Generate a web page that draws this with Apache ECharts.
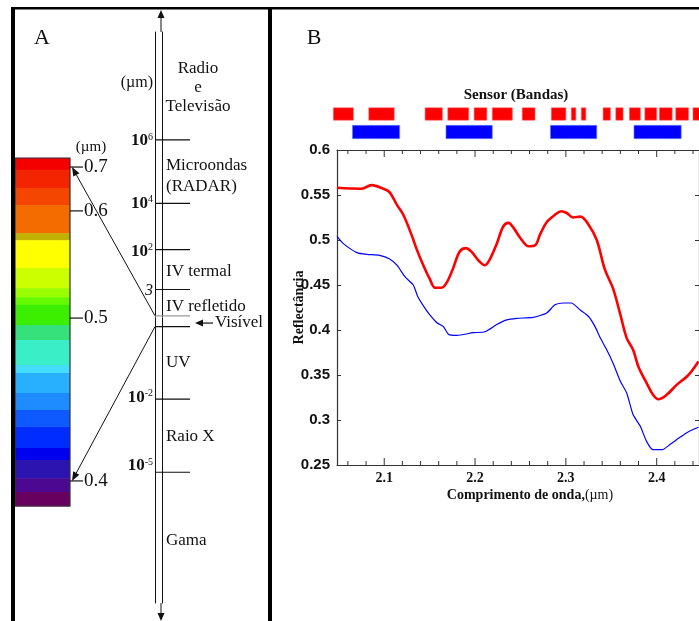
<!DOCTYPE html>
<html><head><meta charset="utf-8">
<script src="https://cdn.jsdelivr.net/npm/echarts@6/dist/echarts.min.js"></script>
<style>html,body{margin:0;padding:0;background:#fff}#c{width:699px;height:621px}</style>
</head><body><div id="c"></div>
<script>
// ---------- Panel B data ----------
const redWavelength = [2.048,2.075,2.086,2.099,2.106,2.114,2.121,2.130,2.136,2.143,2.150,2.156,2.163,2.169,2.176,2.183,2.190,2.196,2.205,2.211,2.216,2.224,2.231,2.237,2.242,2.250,2.259,2.266,2.272,2.279,2.288,2.295,2.301,2.308,2.316,2.325,2.334,2.343,2.352,2.360,2.367,2.374,2.380,2.389,2.396,2.402,2.411,2.422,2.435,2.446];
const redReflectance = [0.558,0.557,0.561,0.557,0.553,0.539,0.528,0.506,0.489,0.472,0.457,0.447,0.447,0.453,0.469,0.487,0.491,0.487,0.476,0.472,0.478,0.496,0.515,0.519,0.514,0.502,0.493,0.494,0.507,0.520,0.528,0.532,0.530,0.525,0.526,0.517,0.500,0.467,0.446,0.417,0.391,0.378,0.359,0.341,0.328,0.323,0.328,0.339,0.350,0.365];
const blueWavelength = [2.048,2.055,2.070,2.081,2.095,2.106,2.114,2.123,2.132,2.137,2.145,2.150,2.158,2.165,2.171,2.180,2.198,2.211,2.224,2.234,2.246,2.264,2.279,2.288,2.297,2.306,2.316,2.325,2.332,2.338,2.345,2.352,2.360,2.367,2.374,2.382,2.389,2.396,2.406,2.415,2.426,2.435,2.446];
const blueReflectance = [0.504,0.496,0.486,0.484,0.483,0.479,0.472,0.459,0.450,0.437,0.424,0.417,0.408,0.404,0.395,0.394,0.397,0.398,0.406,0.411,0.413,0.414,0.419,0.428,0.430,0.430,0.422,0.415,0.404,0.391,0.378,0.363,0.343,0.330,0.306,0.293,0.276,0.267,0.267,0.273,0.281,0.287,0.292];
const sensorRedStart = [2.044,2.083,2.145,2.170,2.199,2.219,2.252,2.284,2.306,2.317,2.341,2.355,2.370,2.387,2.403,2.421,2.440];
const sensorRedEnd   = [2.066,2.111,2.164,2.193,2.213,2.241,2.266,2.300,2.311,2.322,2.349,2.363,2.382,2.400,2.417,2.435,2.470];
const sensorBlueStart = [2.065,2.168,2.283,2.375];
const sensorBlueEnd   = [2.117,2.219,2.334,2.427];
const xTickLabels = [2.1,2.2,2.3,2.4];
const yTickLabels = [0.25,0.3,0.35,0.4,0.45,0.5,0.55,0.6];

// ---------- Panel A data (schematic positions, 0 = top, 100 = bottom) ----------
const colorBandStart = [0,3.4,8.6,13.5,21.6,23.6,31.6,37.4,40.0,42.2,48.0,52.3,59.5,61.8,67.5,72.4,77.3,83.3,86.8,92.0,96.0];
const colorBandEnd   = [3.4,8.6,13.5,21.6,23.6,31.6,37.4,40.0,42.2,48.0,52.3,59.5,61.8,67.5,72.4,77.3,83.3,86.8,92.0,96.0,100];
const colorBandColors = ['#f40000','#f42400','#f44600','#f46c00','#c2b200','#ffff00','#ccff00','#99ff00','#66fa00','#3cee00','#36e07a','#3aeec8','#44ddff','#28b0ff','#1e8cff','#0e5aff','#002cff','#0000ee','#2c14b0','#4c0890','#680060'];
const colorbarTickPos = [2.6,15.2,46.0,92.8];
const colorbarTickLabels = ['0.7','0.6','0.5','0.4'];
const spectrumTickPos = [18.9,30.0,38.1,45.1,49.7,51.6,64.3,77.1];
const spectrumLabelPos = [8.9,19.1,30.0,38.4,45.4,64.0,76.0];
const spectrumLabelText = ['(µm)','10^6','10^4','10^2','3','10^-2','10^-5'];
const regionNames = ['Radio\ne\nTelevisão','Microondas\n(RADAR)','IV termal','IV refletido','Visível','UV','Raio X','Gama'];
const regionPos = [9.8,25.2,41.9,48.0,50.8,57.8,70.9,89.0];

// ---------- layout / style ----------
const SERIF = '"Liberation Serif","Times New Roman",serif';
const regionDx = [43,11,11,11,60,11,11,11];
const regionAlign = ['center','left','left','left','left','left','left','left'];
const spectrumTickColor = ['#111','#111','#111','#111','#999','#111','#111','#111'];
const xMin = 2.048, xMax = 2.4466, yMin = 0.25, yMax = 0.6;
const xTickMarks = [];
for (let i = 103; i <= 222; i++) { const v = +(i/50).toFixed(2); xTickMarks.push([v, xTickLabels.some(t=>Math.abs(t-v)<1e-6) ? 1 : 0]); }

const redData = redWavelength.map((x,i)=>[x, redReflectance[i]]);
const blueData = blueWavelength.map((x,i)=>[x, blueReflectance[i]]);
const sensorRed = sensorRedStart.map((s,i)=>[s, sensorRedEnd[i], 0]);
const sensorBlue = sensorBlueStart.map((s,i)=>[s, sensorBlueEnd[i], 1]);
const colorBands = colorBandStart.map((s,i)=>[s, colorBandEnd[i], i]);

function bandRender(factor, edge){
  return function(params, api){
    const s = api.coord([api.value(0), api.value(2)]);
    const e = api.coord([api.value(1), api.value(2)]);
    const h = api.size([0,1])[1]*factor;
    return {type:'rect', shape:{x:s[0], y:s[1]-h/2, width:e[0]-s[0], height:h},
      style:{fill: api.visual('color'), stroke: edge, lineWidth:0.6}};
  };
}
function supRich(t){
  const k = t.indexOf('^');
  if (k < 0) return t === '(µm)' ? '{u|(µm)}' : '{t|' + t + '}';
  return '{b|' + t.slice(0,k) + '}{s|' + t.slice(k+1) + '}';
}
function nearestLabel(v, pos, labels){
  let best = 0, d = 1e9;
  pos.forEach((p,i)=>{ if (Math.abs(p-v) < d) { d = Math.abs(p-v); best = i; } });
  return labels[best];
}

const chart = echarts.init(document.getElementById('c'));
const axisCol = '#333';
chart.setOption({
  animation:false,
  backgroundColor:'#fff',
  grid:[
    {left:337, top:150, width:362, height:315},
    {left:337, top:105, width:362, height:36},
    {left:15, top:158, width:55, height:348},
    {left:155, top:32, width:35, height:571}
  ],
  xAxis:[
    {gridIndex:0, type:'value', min:xMin, max:xMax, position:'bottom',
     axisLine:{lineStyle:{color:axisCol, width:1.2}}, axisTick:{show:false},
     axisLabel:{customValues:xTickLabels, formatter:v=>v.toFixed(1), color:'#111', fontFamily:SERIF, fontWeight:'bold', fontSize:14, margin:6},
     splitLine:{show:false},
     name:'{b|Comprimento de onda,}{n|(µm)}', nameLocation:'middle', nameGap:23, nameMoveOverlap:false,
     nameTextStyle:{padding:[0,0,0,24], rich:{b:{fontFamily:SERIF, fontWeight:'bold', fontSize:14, color:'#111'}, n:{fontFamily:SERIF, fontSize:14, color:'#111'}}}},
    {gridIndex:0, type:'value', min:xMin, max:xMax, position:'top',
     axisLine:{lineStyle:{color:axisCol, width:1.2}}, axisTick:{show:false}, axisLabel:{show:false}, splitLine:{show:false}},
    {gridIndex:1, type:'value', min:xMin, max:xMax, show:false},
    {gridIndex:2, type:'value', min:0, max:1, show:false},
    {gridIndex:3, type:'value', min:0, max:1, show:false}
  ],
  yAxis:[
    {gridIndex:0, type:'value', min:yMin, max:yMax, interval:0.05, position:'left',
     axisLine:{show:true, lineStyle:{color:axisCol, width:1.2}}, axisTick:{show:true, inside:true, length:4, lineStyle:{color:axisCol}},
     axisLabel:{formatter:v=>String(+v.toFixed(2)), color:'#111', fontFamily:'"Liberation Sans Narrow","Liberation Sans",Arial,sans-serif', fontWeight:'bold', fontSize:15, margin:7},
     splitLine:{show:false},
     name:'Reflectância', nameLocation:'middle', nameGap:31, nameRotate:90, nameMoveOverlap:false,
     nameTextStyle:{fontFamily:SERIF, fontWeight:'bold', fontSize:14, color:'#111'}},
    {gridIndex:0, type:'value', min:yMin, max:yMax, interval:0.05, position:'right',
     axisLine:{show:true, lineStyle:{color:axisCol, width:1.2}}, axisTick:{show:true, inside:true, length:4, lineStyle:{color:axisCol}},
     axisLabel:{show:false}, splitLine:{show:false}},
    {gridIndex:1, type:'category', data:['Sensor 1','Sensor 2'], inverse:true, show:false},
    {gridIndex:2, type:'value', min:0, max:100, inverse:true, position:'right',
     axisLine:{show:false}, axisTick:{show:false},
     axisLabel:{customValues:colorbarTickPos, formatter:v=>nearestLabel(v, colorbarTickPos, colorbarTickLabels), margin:14, fontFamily:SERIF, fontSize:19, color:'#111'},
     splitLine:{show:false}},
    {gridIndex:3, type:'value', min:0, max:100, inverse:true, position:'left',
     axisLine:{show:true, lineStyle:{color:'#111', width:1}}, axisTick:{show:false},
     axisLabel:{customValues:spectrumLabelPos, margin:2, formatter:v=>supRich(nearestLabel(v, spectrumLabelPos, spectrumLabelText)),
       rich:{b:{fontFamily:SERIF, fontWeight:'bold', fontSize:17, color:'#111', lineHeight:18},
             s:{fontFamily:SERIF, fontSize:10, color:'#111', verticalAlign:'top', lineHeight:11},
             t:{fontFamily:SERIF, fontStyle:'italic', fontSize:16, color:'#111'},
             u:{fontFamily:SERIF, fontSize:16, color:'#111'}}},
     splitLine:{show:false}},
    {gridIndex:3, type:'value', min:0, max:100, inverse:true, position:'left', offset:-7,
     axisLine:{show:true, lineStyle:{color:'#111', width:1}}, axisTick:{show:false}, axisLabel:{show:false}, splitLine:{show:false}}
  ],
  series:[
    {type:'line', name:'Amostra 1', xAxisIndex:0, yAxisIndex:0, data:redData, showSymbol:false, smooth:0.35,
     lineStyle:{color:'#ff0000', width:2.6}, itemStyle:{color:'#ff0000'}, z:3},
    {type:'line', name:'Amostra 2', xAxisIndex:0, yAxisIndex:0, data:blueData, showSymbol:false, smooth:0.2,
     lineStyle:{color:'#0000ff', width:1.2}, itemStyle:{color:'#0000ff'}, z:3},
    {type:'custom', name:'Sensor vermelho', xAxisIndex:2, yAxisIndex:2, data:sensorRed, renderItem:bandRender(0.69,'#ff6060'), itemStyle:{color:'#ff0000'}, clip:false},
    {type:'custom', name:'Sensor azul', xAxisIndex:2, yAxisIndex:2, data:sensorBlue, renderItem:bandRender(0.74,'#6688ff'), itemStyle:{color:'#0000ff'}, clip:false},
    {type:'custom', name:'Marcas do eixo x', xAxisIndex:0, yAxisIndex:0, data:xTickMarks, silent:true,
     renderItem:function(params, api){
       const b = api.coord([api.value(0), yMin]), t = api.coord([api.value(0), yMax]);
       const L = api.value(1) ? 7 : 4;
       const st = {stroke:axisCol, lineWidth:1};
       return {type:'group', children:[
         {type:'line', shape:{x1:b[0], y1:b[1], x2:b[0], y2:b[1]-L}, style:st},
         {type:'line', shape:{x1:t[0], y1:t[1], x2:t[0], y2:t[1]+L}, style:st}]};
     }},
    {type:'custom', name:'Cores', xAxisIndex:3, yAxisIndex:3, data:colorBands,
     renderItem:function(params, api){
       const a = api.coord([0, api.value(0)]), b = api.coord([1, api.value(1)]);
       return {type:'rect', shape:{x:a[0], y:a[1], width:b[0]-a[0], height:b[1]-a[1]+0.5}, style:{fill:colorBandColors[api.value(2)]}};
     }},
    {type:'custom', name:'Borda', xAxisIndex:3, yAxisIndex:3, data:[[0,100]], z:5,
     renderItem:function(params, api){
       const a = api.coord([0, 0]), b = api.coord([1, 100]);
       return {type:'rect', shape:{x:a[0], y:a[1], width:b[0]-a[0], height:b[1]-a[1]}, style:{fill:'none', stroke:'#333', lineWidth:1.2}};
     }},
    {type:'custom', name:'Marcas da escala de cor', xAxisIndex:3, yAxisIndex:3, data:colorbarTickPos.map(p=>[1,p]), z:5,
     renderItem:function(params, api){
       const a = api.coord([1, api.value(1)]);
       return {type:'line', shape:{x1:a[0], y1:a[1], x2:a[0]+13, y2:a[1]}, style:{stroke:'#111', lineWidth:1.2}};
     }},
    {type:'custom', name:'Espectro', xAxisIndex:4, yAxisIndex:4, data:spectrumTickPos.map((p,i)=>[0,p,i]),
     renderItem:function(params, api){
       const a = api.coord([0, api.value(1)]), b = api.coord([1, api.value(1)]);
       return {type:'line', shape:{x1:a[0], y1:a[1], x2:b[0], y2:b[1]}, style:{stroke:spectrumTickColor[api.value(2)], lineWidth:1.2}};
     }},
    {type:'custom', name:'Regiões', xAxisIndex:4, yAxisIndex:4, data:regionPos.map((p,i)=>[0,p,i]),
     renderItem:function(params, api){
       const i = api.value(2), a = api.coord([0, api.value(1)]);
       const txt = {type:'text', x:a[0]+regionDx[i], y:a[1],
         style:{text:regionNames[i], fontFamily:SERIF, fontSize:17, fill:'#111', align:regionAlign[i], verticalAlign:'middle',
                lineHeight: i===0 ? 19 : 20.5}};
       if (regionNames[i] !== 'Visível') return txt;
       const x0 = a[0]+40, x1 = a[0]+58, y = a[1]+1;
       return {type:'group', children:[txt,
         {type:'line', shape:{x1:x0+6, y1:y, x2:x1, y2:y}, style:{stroke:'#111', lineWidth:1.2}},
         {type:'polygon', shape:{points:[[x0,y],[x0+8,y-3.5],[x0+8,y+3.5]]}, style:{fill:'#111'}}]};
     }}
  ]
});

// ---------- decorative frame, arrows, panel letters ----------
function arrow(x1,y1,x2,y2,head,w){
  const ang = Math.atan2(y2-y1, x2-x1);
  const bx = x2-head*Math.cos(ang), by = y2-head*Math.sin(ang);
  const px = -Math.sin(ang)*w, py = Math.cos(ang)*w;
  return [{type:'line', shape:{x1:x1, y1:y1, x2:bx, y2:by}, style:{stroke:'#111', lineWidth:1}, z:50},
          {type:'polygon', shape:{points:[[x2,y2],[bx+px,by+py],[bx-px,by-py]]}, style:{fill:'#111'}, z:50}];
}
const specTop = chart.convertToPixel({xAxisIndex:4, yAxisIndex:4}, [0, spectrumTickPos[4]]);
const specBot = chart.convertToPixel({xAxisIndex:4, yAxisIndex:4}, [0, spectrumTickPos[5]]);
const cb07 = chart.convertToPixel({xAxisIndex:3, yAxisIndex:3}, [1, colorbarTickPos[0]]);
const cb04 = chart.convertToPixel({xAxisIndex:3, yAxisIndex:3}, [1, colorbarTickPos[3]]);
const lineTop = chart.convertToPixel({xAxisIndex:4, yAxisIndex:4}, [0, 0]);
const lineBot = chart.convertToPixel({xAxisIndex:4, yAxisIndex:4}, [0, 100]);
const ax = lineTop[0] + 6;
const g = [];
g.push({type:'rect', shape:{x:11, y:7, width:4, height:620}, style:{fill:'#000'}, z:60});
g.push({type:'rect', shape:{x:11, y:7, width:700, height:2.5}, style:{fill:'#000'}, z:60});
g.push({type:'rect', shape:{x:268, y:7, width:4, height:620}, style:{fill:'#000'}, z:60});
g.push(...arrow(specTop[0], specTop[1], cb07[0]+2, cb07[1], 9, 3.5));
g.push(...arrow(specBot[0], specBot[1], cb04[0]+2, cb04[1], 9, 3.5));
g.push(...arrow(ax, lineTop[1], ax, 10, 8, 3.5));
g.push(...arrow(ax, lineBot[1], ax, 621, 8, 3.5));
g.push({type:'text', x:42, y:38, style:{text:'A', fontFamily:SERIF, fontSize:22, fill:'#111', align:'center', verticalAlign:'middle'}, z:60});
g.push({type:'text', x:314, y:38, style:{text:'B', fontFamily:SERIF, fontSize:22, fill:'#111', align:'center', verticalAlign:'middle'}, z:60});
g.push({type:'text', x:91, y:147, style:{text:'(µm)', fontFamily:SERIF, fontSize:15, fill:'#111', align:'center', verticalAlign:'middle'}, z:60});
g.push({type:'text', x:516, y:95, style:{text:'Sensor (Bandas)', fontFamily:SERIF, fontWeight:'bold', fontSize:15, fill:'#111', align:'center', verticalAlign:'middle'}, z:60});
chart.setOption({graphic:g});
</script></body></html>
